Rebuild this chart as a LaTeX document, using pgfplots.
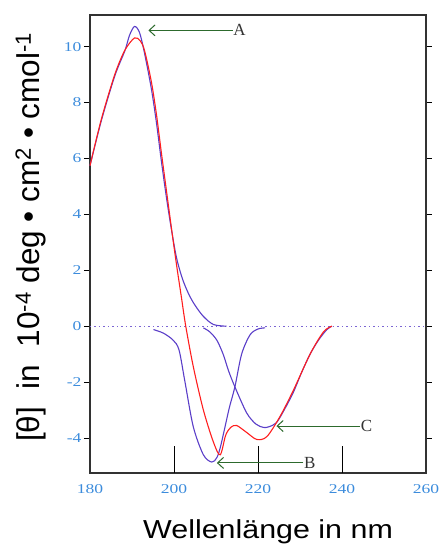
\documentclass[border=0pt]{standalone}
\usepackage{fontspec}
\usepackage{graphicx}
\usepackage{pgfplots}
\pgfplotsset{compat=1.18}
\usetikzlibrary{arrows.meta}
\setmainfont{Liberation Sans}
\newfontfamily\tickfont[FakeStretch=1.3]{Liberation Serif}
\newfontfamily\annfont{Liberation Serif}
\newfontfamily\xlabfont[FakeStretch=1.17]{Liberation Sans}
\definecolor{tickblue}{RGB}{60,140,220}
\definecolor{cdpurple}{RGB}{90,62,200}
\definecolor{cdred}{RGB}{255,30,30}
\definecolor{arrgreen}{RGB}{45,106,45}
\definecolor{frame}{RGB}{50,50,50}
\begin{document}
\begin{tikzpicture}
\begin{axis}[
  scale only axis,
  width=336pt, height=458pt,
  xmin=180, xmax=260, ymin=-5.25, ymax=11.13,
  axis line style={frame, line width=1.1pt},
  xtick={180,200,220,240,260},
  xticklabels={180,200,220,240,260},
  ytick={-4,-2,0,2,4,6,8,10},
  yticklabels={-4,-2,0,2,4,6,8,10},
  xtick style={draw=none},
  ytick style={black, line width=0.8pt},
  tick align=outside,
  major tick length=6pt,
  xticklabel style={font=\tickfont\fontsize{13.5}{14}\selectfont, text=tickblue, yshift=-1.5pt},
  yticklabel style={font=\tickfont\fontsize{13.5}{14}\selectfont, text=tickblue, xshift=1pt},
  xlabel={\xlabfont Wellenlänge in nm},
  xlabel style={font=\fontsize{26}{30}\selectfont, at={(axis description cs:0.53,-0.129)}, anchor=center},
  ylabel={[θ]\ \ in\ \ 10\textsuperscript{-4} deg • cm\textsuperscript{2} • cmol\textsuperscript{-1}},
  ylabel style={font=\fontsize{31.5}{34}\selectfont, at={(axis description cs:-0.176,0.515)}, anchor=center},
  clip=false,
]
% zero line
\addplot[cdpurple!80, line width=1.3pt, dash pattern=on 1.3pt off 3.2pt] coordinates {(180,0) (260,0)};
% purple: positive band A
\addplot[cdpurple, line width=1.1pt, smooth, tension=0.5] coordinates {
(180,5.74) (182.7,7.35) (185.9,8.95) (188.3,9.85) (189.4,10.4) (190.6,10.72) (191.8,10.5) (193,9.75) (194.6,8.5) (195.8,7.3) (197,5.9) (198.2,4.6) (199.4,3.45) (200.6,2.45) (202,1.7) (203.5,1.15) (205,0.75) (207,0.35) (209.4,0.06) (212.5,0)
};
% purple: band B
\addplot[cdpurple, line width=1.1pt, smooth, tension=0.5] coordinates {
(195.1,-0.12) (197.5,-0.25) (199.8,-0.5) (201.2,-0.85) (202.6,-1.98) (204.6,-3.6) (207,-4.6) (209,-4.86) (210.2,-4.7) (211,-4.35) (212,-3.7) (213.2,-2.9) (214.5,-2.17) (216.1,-1.0) (218.1,-0.31) (220,-0.1) (221.7,-0.06)
};
% purple: band C
\addplot[cdpurple, line width=1.1pt, smooth, tension=0.5] coordinates {
(207,-0.06) (208.5,-0.2) (210.2,-0.5) (211.7,-1.0) (213,-1.6) (214.5,-2.17) (217.3,-3.1) (219.5,-3.5) (221.3,-3.62) (222.5,-3.6) (224.4,-3.45) (226.4,-2.95) (228.4,-2.37) (230.4,-1.65) (232.4,-1.0) (234.4,-0.5) (236.4,-0.12) (237.6,0)
};
% red: sum
\addplot[cdred, line width=1.1pt, smooth, tension=0.5] coordinates {
(180,5.74) (182.7,7.4) (185.9,9.0) (188.3,9.87) (190.6,10.31) (192,10.2) (193,9.85) (194.6,8.75) (195.8,7.6) (197,6.2) (198.2,4.85) (199.4,3.5) (200.6,2.2) (201.8,1.0) (202.8,0) (204.6,-1.45) (207,-3.0) (209.4,-4.15) (211,-4.6) (212.3,-3.9) (213.5,-3.62) (214.9,-3.55) (217.3,-3.8) (219.7,-4.05) (222.1,-3.95) (225.2,-3.24) (228.4,-2.3) (232.4,-1.0) (235.6,-0.2) (237.6,0)
};
% inner x ticks
\draw[black, line width=0.9pt] (axis cs:200,-5.25) -- (axis cs:200,-4.3);
\draw[black, line width=0.9pt] (axis cs:220,-5.25) -- (axis cs:220,-4.3);
\draw[black, line width=0.9pt] (axis cs:240,-5.25) -- (axis cs:240,-4.3);
% annotations
\draw[arrgreen, line width=1pt, -{Straight Barb[length=6pt,width=11pt]}] (axis cs:214,10.58) -- (axis cs:193.9,10.58);
\node[anchor=west, inner sep=0.5pt, font=\annfont\fontsize{17}{17}\selectfont, text=black!80] at (axis cs:214,10.58) {A};
\draw[arrgreen, line width=1pt, -{Straight Barb[length=6pt,width=11pt]}] (axis cs:230.8,-4.89) -- (axis cs:210.2,-4.89);
\node[anchor=west, inner sep=0.5pt, font=\annfont\fontsize{17}{17}\selectfont, text=black!80] at (axis cs:230.8,-4.89) {B};
\draw[arrgreen, line width=1pt, -{Straight Barb[length=6pt,width=11pt]}] (axis cs:244.3,-3.57) -- (axis cs:224.4,-3.57);
\node[anchor=west, inner sep=0.5pt, font=\annfont\fontsize{17}{17}\selectfont, text=black!80] at (axis cs:244.3,-3.57) {C};
\end{axis}
\pgfresetboundingbox
\path (current axis.south west) ++(-90pt,-77pt) rectangle ++(443pt,550pt);
\end{tikzpicture}
\end{document}
